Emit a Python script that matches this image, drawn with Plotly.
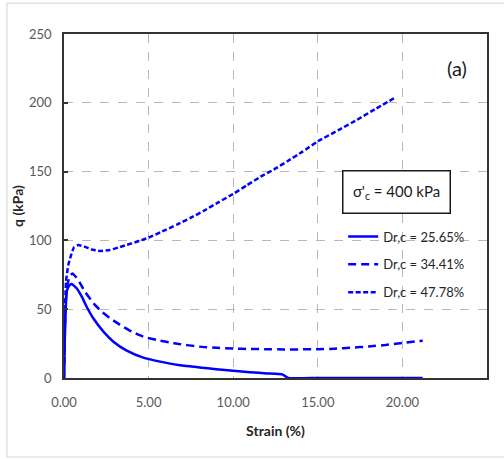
import plotly.graph_objects as go

# Stress-strain response at sigma'c = 400 kPa for three relative densities
strain_a = [0, 0.05, 0.1, 0.16, 0.3, 0.45, 0.75, 1.05, 1.34, 1.73, 2.33, 2.92, 3.71,
            4.69, 5.68, 6.76, 8.0, 9.0, 10.0, 11.0, 12.0, 12.9, 13.25, 15.0, 17.0,
            19.0, 21.2]
q_a = [0, 30, 50, 62.7, 67, 68.3, 65.2, 59.1, 51.8, 43.4, 33.7, 26.4, 19.9,
       14.8, 11.9, 9.4, 7.7, 6.4, 5.2, 4.2, 3.3, 2.6, 0, 0, 0, 0, 0]

strain_b = [0, 0.05, 0.1, 0.2, 0.35, 0.5, 0.8, 1.24, 1.74, 2.23, 2.73, 3.32, 4.01,
            4.7, 5.49, 6.28, 6.78, 8.0, 9.0, 10.0, 11.0, 12.0, 13.0, 14.0, 15.0,
            16.0, 17.0, 18.0, 19.0, 20.0, 21.2]
q_b = [0, 35, 55, 68, 74, 76, 72, 62.7, 54.3, 48.2, 43.4, 38.5, 33.7,
       30.0, 27.6, 25.7, 24.7, 22.8, 21.9, 21.4, 21.1, 20.9, 20.8, 20.8, 20.9,
       21.3, 22.0, 22.9, 24.0, 25.5, 27.1]

strain_c = [0, 0.05, 0.12, 0.25, 0.36, 0.59, 0.85, 1.2, 1.6, 2.13, 2.7, 3.2, 3.7,
            4.3, 5.0, 5.8, 6.68, 7.5, 8.26, 9.1, 10.0, 10.8, 11.62, 12.4, 13.2,
            14.1, 15.0, 16.2, 17.3, 18.4, 19.5]
q_c = [0, 45, 70, 82, 87, 95, 96.7, 95.5, 93.5, 92.3, 93, 94.8, 96.7,
       99, 102, 106.5, 111.5, 116.5, 121.5, 127.5, 133.8, 140, 146.3, 151.5, 157.5,
       164.5, 172, 180, 187.5, 195.5, 203.3]

series_names = ["Dr,c = 25.65%", "Dr,c = 34.41%", "Dr,c = 47.78%"]
series_dash = ["solid", "8px,5px", "5px,2.5px"]

x_ticks = [0, 5, 10, 15, 20, 25]
y_ticks = [0, 50, 100, 150, 200, 250]

BLUE = "#0000ff"
FONT = "Lato, 'Liberation Sans', sans-serif"

fig = go.Figure()
for i, (xs, ys) in enumerate([(strain_a, q_a), (strain_b, q_b), (strain_c, q_c)]):
    fig.add_trace(go.Scatter(
        x=xs, y=ys, mode="lines", name=series_names[i],
        legendgroup=f"g{i}",
        line=dict(color=BLUE, width=2.5, dash=series_dash[i],
                  shape="spline", smoothing=0.4),
    ))

axis_common = dict(
    showline=True, linecolor="#333333", linewidth=1.5, mirror=True,
    showgrid=True, gridcolor="#b8b8b8", griddash="dash", gridwidth=1,
    zeroline=False, tickfont=dict(family=FONT, size=13, color="#595959"),
    automargin=False,
)

fig.update_xaxes(
    range=[0, 25], tickvals=x_ticks, tickformat=".2f",
    ticks="", ticklabelstandoff=12,
    title=dict(text="<b>Strain (%)</b>", font=dict(family=FONT, size=14, color="#262626"),
               standoff=17),
    **axis_common,
)
fig.update_yaxes(
    range=[0, 250], tickvals=y_ticks,
    ticks="inside", ticklen=4, tickcolor="#333333", tickwidth=1.5,
    ticklabelstandoff=8,
    title=dict(text="<b>q (kPa)</b>", font=dict(family=FONT, size=14, color="#262626"),
               standoff=2),
    **axis_common,
)

# outer frame of the figure
fig.add_shape(type="rect", xref="paper", yref="paper",
              x0=-0.1348, x1=1.045, y0=-0.2297, y1=1.090,
              line=dict(color="#d9d9d9", width=1.2), fillcolor="rgba(0,0,0,0)",
              layer="below")
# white panel behind the legend block
fig.add_shape(type="rect", xref="paper", yref="paper",
              x0=0.629, x1=0.979, y0=0.221, y1=0.625,
              line=dict(width=0), fillcolor="white", layer="between")

fig.add_annotation(
    xref="paper", yref="paper", x=0.785, y=0.542,
    xanchor="center", yanchor="middle",
    text="σ'<sub>c</sub> = 400 kPa", showarrow=False,
    font=dict(family=FONT, size=15, color="#1a1a1a"),
    bordercolor="#1a1a1a", borderwidth=1.5, bgcolor="white",
    width=104, height=39, borderpad=1,
)
fig.add_annotation(
    xref="paper", yref="paper", x=0.929, y=0.901,
    xanchor="center", yanchor="middle",
    text="(a)", showarrow=False,
    font=dict(family=FONT, size=20, color="#1a1a1a"),
)

fig.update_layout(
    width=504, height=459,
    margin=dict(l=64, r=17, t=34, b=81),
    paper_bgcolor="white", plot_bgcolor="white",
    showlegend=True,
    legend=dict(
        x=0.66, y=0.455, xanchor="left", yanchor="top",
        bgcolor="rgba(0,0,0,0)", borderwidth=0,
        font=dict(family=FONT, size=13, color="#262626"),
        tracegroupgap=8, itemwidth=30,
    ),
)

fig.write_html("out.html")
